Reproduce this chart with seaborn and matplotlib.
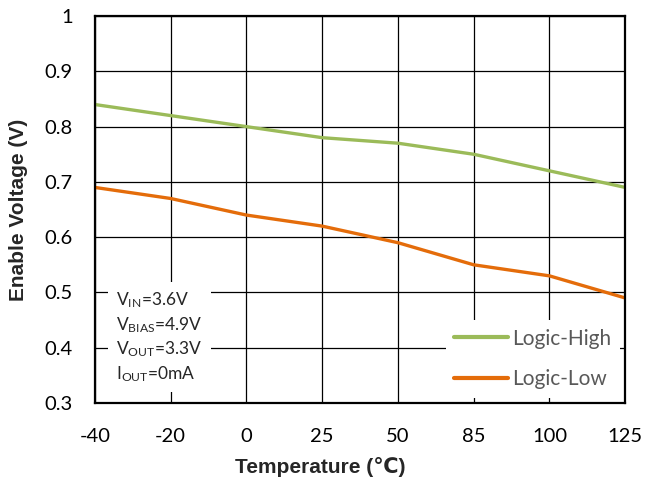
import matplotlib
matplotlib.use("Agg")
import matplotlib.pyplot as plt
import seaborn as sns
import pandas as pd

temps = ["-40", "-20", "0", "25", "50", "85", "100", "125"]
logic_high = [0.84, 0.82, 0.80, 0.78, 0.77, 0.75, 0.72, 0.69]
logic_low = [0.69, 0.67, 0.64, 0.62, 0.59, 0.55, 0.53, 0.49]
series_names = ["Logic-High", "Logic-Low"]
yticks = [0.3, 0.4, 0.5, 0.6, 0.7, 0.8, 0.9, 1.0]
ytick_labels = ["0.3", "0.4", "0.5", "0.6", "0.7", "0.8", "0.9", "1"]

df = pd.DataFrame({
    "Temperature": temps * 2,
    "Voltage": logic_high + logic_low,
    "Series": [series_names[0]] * len(temps) + [series_names[1]] * len(temps),
})

sns.set_theme(style="white")
plt.rcParams["font.family"] = ["Lato", "DejaVu Sans"]
plt.rcParams["mathtext.fontset"] = "custom"
plt.rcParams["mathtext.rm"] = "Lato"
plt.rcParams["mathtext.it"] = "Lato"

fig = plt.figure(figsize=(6.54, 4.87), dpi=100)
ax = fig.add_axes([0.145, 0.1725, 0.811, 0.7945])

sns.lineplot(data=df, x="Temperature", y="Voltage", hue="Series",
             palette={"Logic-High": "#9BBB59", "Logic-Low": "#E46C0A"},
             linewidth=2.4, ax=ax, sort=False, zorder=3)

ax.set_xlim(0, len(temps) - 1)
ax.set_ylim(0.3, 1.0)
ax.set_yticks(yticks)
ax.set_yticklabels(ytick_labels)
ax.set_xticks(range(len(temps)))
ax.set_xticklabels(temps)
ax.tick_params(axis="both", labelsize=14.5, colors="black", length=0)
ax.tick_params(axis="y", pad=16)
ax.tick_params(axis="x", pad=18)
ax.grid(True, color="black", linewidth=0.9, zorder=0)
ax.set_axisbelow(True)
for s in ax.spines.values():
    s.set_color("black")
    s.set_linewidth(1.6)
    s.set_zorder(5)

ax.set_xlabel("Temperature (\u2103)", fontsize=15, fontweight="bold",
              family=["Liberation Sans", "DejaVu Sans"])
ax.xaxis.set_label_coords(0.425, -0.14)
ax.set_ylabel("Enable Voltage (V)", fontsize=15, fontweight="bold",
              family=["Liberation Sans", "DejaVu Sans"])
ax.yaxis.set_label_coords(-0.126, 0.50)

txt = ("$\\mathregular{V_{IN}}$=3.6V\n"
       "$\\mathregular{V_{BIAS}}$=4.9V\n"
       "$\\mathregular{V_{OUT}}$=3.3V\n"
       "$\\mathregular{I_{OUT}}$=0mA")
ax.text(0.04, 0.05, txt, transform=ax.transAxes, fontsize=12.5, va="bottom",
        ha="left", linespacing=1.32, zorder=4,
        bbox=dict(facecolor="white", edgecolor="none", pad=6))

leg = ax.legend(loc="lower right", frameon=True, fontsize=15, handlelength=2.6,
                labelspacing=1.0, borderaxespad=0.25, handletextpad=0.2,
                fancybox=False)
leg.get_frame().set_facecolor("white")
leg.get_frame().set_edgecolor("none")
leg.get_frame().set_alpha(1)
leg.set_zorder(4)
for t in leg.get_texts():
    t.set_color("#595959")
for l in leg.get_lines():
    l.set_linewidth(3)

fig.savefig("out.png", dpi=100)
